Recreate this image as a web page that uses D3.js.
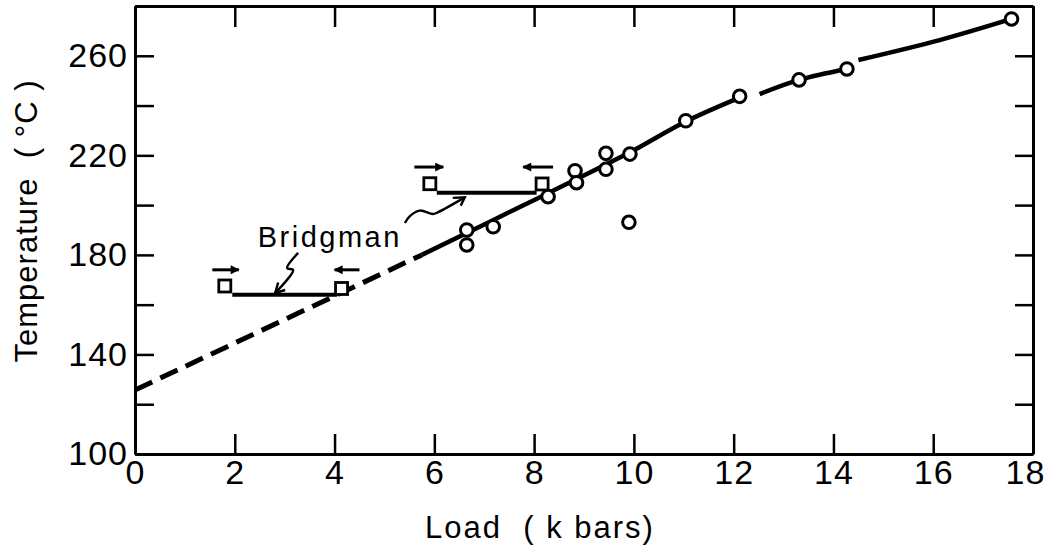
<!DOCTYPE html>
<meta charset="utf-8">
<script src="https://d3js.org/d3.v7.min.js"></script>
<style>
  body { margin: 0; background: #fff; }
  text { font-family: 'Liberation Sans', Arial, sans-serif; fill: #000; }
  .axis path, .axis line { stroke: #000; }
  .axis text { font-family: 'Liberation Sans', Arial, sans-serif; font-size: 34px; letter-spacing: 1px; }
</style>
<body>
<div id="chart"></div>
<script>
// tick values
var loadTicks = [0, 2, 4, 6, 8, 10, 12, 14, 16, 18];
var tempTicks = [100, 120, 140, 160, 180, 200, 220, 240, 260, 280];
var tempLabels = [100, 140, 180, 220, 260];

// measured points (open circles)
var pointLoad = [6.65, 6.65, 7.18, 8.28, 8.82, 8.85, 9.44, 9.44, 9.92, 9.90, 11.04, 12.12, 13.31, 14.27, 17.57];
var pointTemp = [190.0, 184.0, 191.3, 203.4, 213.8, 209.0, 220.8, 214.4, 220.5, 193.1, 233.9, 243.7, 250.3, 254.7, 274.8];

// fitted curve: dashed extrapolation + solid pieces
var dashLoad = [0, 5.75];
var dashTemp = [125.7, 180];
var solidLoadA = [5.75, 8.2, 9.9, 11.04, 12.12];
var solidTempA = [180, 204, 221, 233.6, 243.2];
var solidLoadB = [12.52, 13.31, 14.27];
var solidTempB = [244.6, 250.3, 254.7];
var solidLoadC = [14.5, 16.13, 17.57];
var solidTempC = [258.3, 266.3, 274.8];

// Bridgman squares and bars
var squareLoad = [1.80, 4.14, 5.91, 8.16];
var squareTemp = [167.5, 166.5, 208.6, 208.5];
var barStart = [1.95, 6.05];
var barEnd = [4.05, 8.05];
var barTemp = [164.0, 205.0];
// small arrows above squares
var arrowFrom = [1.55, 4.50, 5.60, 8.38];
var arrowTo = [2.08, 4.00, 6.18, 7.78];
var arrowTemp = [174.0, 174.0, 215.3, 215.3];

var width = 1049, height = 553;
var margin = {top: 6, right: 16, bottom: 99, left: 135};

var svg = d3.select("#chart")
  .append("svg")
    .attr("width", width)
    .attr("height", height);

var g = svg.append("g")
    .attr("transform", "translate(" + margin.left + "," + margin.top + ")");

var w = width - margin.left - margin.right,
    h = height - margin.top - margin.bottom;

var x = d3.scaleLinear().domain([0, 18]).range([0, w]);
var y = d3.scaleLinear().domain([100, 280]).range([h, 0]);

// axes, ticks pointing inward
var xAxis = g.append("g").attr("class", "axis")
  .attr("transform", "translate(0," + h + ")")
  .call(d3.axisBottom(x).tickValues(loadTicks).tickSize(-20).tickSizeOuter(0).tickPadding(6));
xAxis.selectAll(".tick text").filter(function(d) { return d === 18; }).attr("dx", "-8");

g.append("g").attr("class", "axis")
  .call(d3.axisTop(x).tickValues(loadTicks).tickSize(-21).tickSizeOuter(0).tickFormat(""));
g.append("g").attr("class", "axis")
  .call(d3.axisLeft(y).tickValues(tempTicks).tickSize(-19).tickSizeOuter(0).tickPadding(7)
    .tickFormat(function(d) { return tempLabels.indexOf(d) >= 0 ? d : ""; }));
g.append("g").attr("class", "axis")
  .attr("transform", "translate(" + w + ",0)")
  .call(d3.axisRight(y).tickValues(tempTicks).tickSize(-18).tickSizeOuter(0).tickFormat(""));

g.selectAll(".axis .domain").attr("stroke-width", 3);
g.selectAll(".axis .tick line").attr("stroke-width", 2.5);

// axis titles
svg.append("text")
  .attr("transform", "translate(37,221) rotate(-90)")
  .attr("text-anchor", "middle")
  .style("font-size", "31px")
  .style("letter-spacing", "1px")
  .style("white-space", "pre")
  .text("Temperature  ( °C )");

svg.append("text")
  .attr("x", 540)
  .attr("y", 538)
  .attr("text-anchor", "middle")
  .style("font-size", "31px")
  .style("letter-spacing", "2px")
  .style("white-space", "pre")
  .text("Load  ( k bars)");

// curve
function pairs(xs, ys) { return xs.map(function(v, i) { return [v, ys[i]]; }); }
var line = d3.line()
  .x(function(d) { return x(d[0]); })
  .y(function(d) { return y(d[1]); })
  .curve(d3.curveCatmullRom);

g.append("path")
  .attr("d", line(pairs(dashLoad, dashTemp)))
  .attr("fill", "none")
  .attr("stroke", "#000")
  .attr("stroke-width", 5)
  .attr("stroke-dasharray", "19,9");

[[solidLoadA, solidTempA], [solidLoadB, solidTempB], [solidLoadC, solidTempC]].forEach(function(s) {
  g.append("path")
    .attr("d", line(pairs(s[0], s[1])))
    .attr("fill", "none")
    .attr("stroke", "#000")
    .attr("stroke-width", 4.5);
});

// Bridgman bars
g.selectAll(".bar")
  .data(barTemp)
  .enter().append("line")
    .attr("x1", function(d, i) { return x(barStart[i]); })
    .attr("x2", function(d, i) { return x(barEnd[i]); })
    .attr("y1", function(d) { return y(d); })
    .attr("y2", function(d) { return y(d); })
    .attr("stroke", "#000")
    .attr("stroke-width", 4);

// squares
g.selectAll(".sq")
  .data(squareTemp)
  .enter().append("rect")
    .attr("x", function(d, i) { return x(squareLoad[i]) - 6; })
    .attr("y", function(d) { return y(d) - 6; })
    .attr("width", 12)
    .attr("height", 12)
    .attr("fill", "#fff")
    .attr("stroke", "#000")
    .attr("stroke-width", 2.8);

// arrows above squares
svg.append("defs").append("marker")
    .attr("id", "head")
    .attr("viewBox", "0 0 10 10")
    .attr("refX", 9).attr("refY", 5)
    .attr("markerWidth", 10).attr("markerHeight", 9)
    .attr("markerUnits", "userSpaceOnUse")
    .attr("orient", "auto")
  .append("path")
    .attr("d", "M0,0L10,5L0,10z")
    .attr("fill", "#000");

g.selectAll(".arr")
  .data(arrowTemp)
  .enter().append("line")
    .attr("x1", function(d, i) { return x(arrowFrom[i]); })
    .attr("x2", function(d, i) { return x(arrowTo[i]); })
    .attr("y1", function(d) { return y(d); })
    .attr("y2", function(d) { return y(d); })
    .attr("stroke", "#000")
    .attr("stroke-width", 3)
    .attr("marker-end", "url(#head)");

// circles
g.selectAll(".pt")
  .data(pointTemp)
  .enter().append("circle")
    .attr("cx", function(d, i) { return x(pointLoad[i]); })
    .attr("cy", function(d) { return y(d); })
    .attr("r", 6.3)
    .attr("fill", "#fff")
    .attr("stroke", "#000")
    .attr("stroke-width", 3);

// Bridgman label with squiggly leaders
g.append("text")
  .attr("x", x(2.46))
  .attr("y", y(183.0))
  .style("font-size", "29px")
  .style("letter-spacing", "2.5px")
  .text("Bridgman");

var squig = d3.line()
  .x(function(d) { return x(d[0]); })
  .y(function(d) { return y(d[1]); })
  .curve(d3.curveCatmullRom);

var lowSquigLoad = [3.27, 3.05, 3.17, 2.81];
var lowSquigTemp = [180.8, 174.7, 173.9, 164.7];
var upSquigLoad = [5.41, 5.51, 5.71, 5.97, 6.07, 6.61];
var upSquigTemp = [192.8, 195.6, 197.8, 196.4, 197.1, 203.1];

[[lowSquigLoad, lowSquigTemp, [2.87, 3.01], [168.9, 165.9]],
 [upSquigLoad, upSquigTemp, [6.37, 6.53], [202.9, 199.8]]].forEach(function(s) {
  g.append("path")
    .attr("d", squig(pairs(s[0], s[1])))
    .attr("fill", "none").attr("stroke", "#000").attr("stroke-width", 2.4);
  var n = s[0].length - 1;
  var tip = [s[0][n], s[1][n]];
  g.append("path")
    .attr("d", d3.line().x(function(d) { return x(d[0]); }).y(function(d) { return y(d[1]); })
      ([[s[2][0], s[3][0]], tip, [s[2][1], s[3][1]]]))
    .attr("fill", "none").attr("stroke", "#000").attr("stroke-width", 2.4);
});
</script>
</body>
